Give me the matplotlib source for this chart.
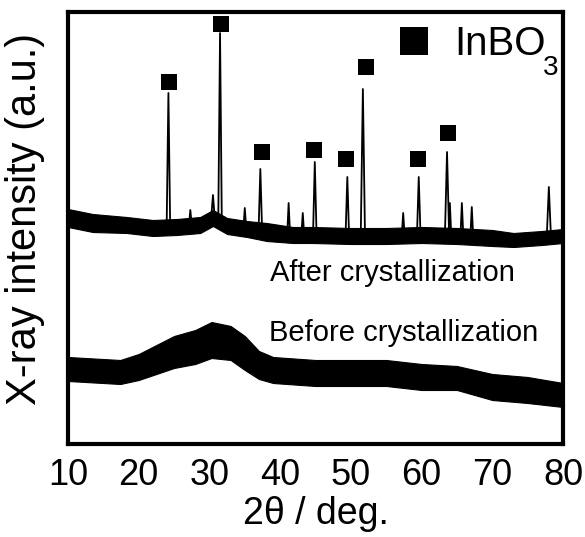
import matplotlib
matplotlib.use("Agg")
import matplotlib.pyplot as plt
import numpy as np

plt.rcParams['font.family'] = ['Liberation Sans', 'DejaVu Sans']

# ---- data (intensity in a.u.) ----
# After crystallization: baseline centre and noise half-width
after_base_x = [10, 13.5, 18.3, 22, 25.4, 28.7, 30.5, 32.5, 35.3, 38.1, 41.8, 44.6,
                50, 55, 60, 65, 70, 73, 77, 80]
after_base_y = [226, 221, 219, 216, 217, 219, 226, 218, 215, 212, 209, 209,
                208, 208, 209, 208, 206, 204, 206, 208]
after_noise = [9, 9, 8, 8, 8, 8, 8, 8, 8, 9, 8, 8,
               8, 8, 8, 8, 8, 7, 7, 7]
# peaks: position (deg), top intensity, half base width
peak_pos = [24.2, 27.3, 30.5, 31.5, 35.0, 37.2, 41.2, 43.2, 44.9, 49.5, 51.7, 57.4,
            59.6, 63.6, 64.0, 65.7, 67.1, 78.0]
peak_top = [351, 234, 249, 411, 236, 275, 241, 231, 282, 267, 355, 231,
            267, 292, 241, 241, 237, 257]
peak_hw = [0.25, 0.2, 0.25, 0.25, 0.2, 0.25, 0.2, 0.2, 0.25, 0.25, 0.3, 0.2,
           0.25, 0.3, 0.2, 0.2, 0.2, 0.3]

# InBO3 markers
mark_x = [24.3, 31.6, 37.4, 44.8, 49.3, 52.2, 59.5, 63.8]
mark_y = [362, 420, 292, 294, 285, 377, 285, 311]

# Before crystallization: centre and noise half-width
before_x = [10, 17.4, 20, 25, 28, 30.3, 33, 35, 37, 39, 45, 50, 55, 60, 65, 70, 75, 80]
before_y = [75, 72, 77, 92, 97, 104, 101, 91, 79, 74, 71, 71, 71, 67, 66, 57, 54, 49]
before_noise = [12, 12, 13, 16, 17, 18, 17, 17, 14, 13, 13, 13, 13, 13, 12, 13, 13, 12]

# ---- figure ----
fig = plt.figure(figsize=(5.85, 5.37), dpi=100)
ax = fig.add_axes([68/585, 1-444/537, (563-68)/585, (444-12)/537])

# after: baseline noise band
ab_x = np.array(after_base_x, float)
ab_y = np.array(after_base_y, float)
ab_n = np.array(after_noise, float)
ax.fill_between(ab_x, ab_y - ab_n, ab_y + ab_n, color='black', lw=0.8)
# after: peaks
for p, t, w in zip(peak_pos, peak_top, peak_hw):
    b = np.interp(p, ab_x, ab_y)
    ax.plot([p - w, p, p + w], [b, t, b], color='black', lw=1.3)

# before: noise band
bx = np.array(before_x, float)
by = np.array(before_y, float)
bn = np.array(before_noise, float)
ax.fill_between(bx, by - bn, by + bn, color='black', lw=0.8)

# markers
ax.plot(mark_x, mark_y, 's', color='black', ms=11.5, mew=0)
ax.plot([58.9], [403], 's', color='black', ms=20, mew=0)
ax.text(64.6, 389, "InBO", fontsize=29, va='baseline', ha='left')
ax.text(77.2, 369, "3", fontsize=20, va='baseline', ha='left')

ax.text(38.6, 171, "After crystallization", fontsize=21, va='center', ha='left')
ax.text(38.4, 111, "Before crystallization", fontsize=21, va='center', ha='left')

ax.set_xlim(10, 80)
ax.set_ylim(0, 432)
ax.set_xticks([10, 20, 30, 40, 50, 60, 70, 80])
ax.set_yticks([])
ax.tick_params(axis='x', length=0, pad=10, labelsize=26)
for s in ax.spines.values():
    s.set_linewidth(3)
ax.set_xlabel("2θ / deg.", fontsize=27, labelpad=2)
ax.set_ylabel("X-ray intensity (a.u.)", fontsize=30)
ax.yaxis.set_label_coords(-0.046, 0.52)

fig.savefig("out.png", dpi=100)
